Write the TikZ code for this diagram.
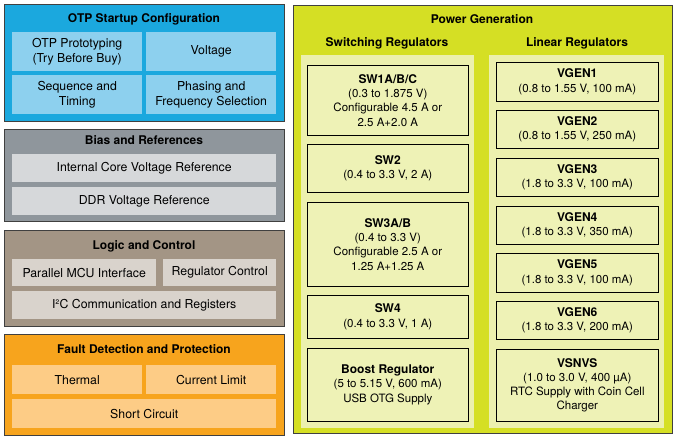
\documentclass[tikz,border=0pt]{standalone}
\usepackage{fontspec}
\setmainfont{TeX Gyre Heros}
\usepackage{tikz}
\definecolor{otpblue}{HTML}{1BA8DE}
\definecolor{otplight}{HTML}{8DD0EE}
\definecolor{biasgray}{HTML}{8F969C}
\definecolor{biaslight}{HTML}{D6D8DA}
\definecolor{logicbrown}{HTML}{A39585}
\definecolor{logiclight}{HTML}{D9D3CC}
\definecolor{faultorange}{HTML}{F7A41D}
\definecolor{faultlight}{HTML}{FDCC86}
\definecolor{powerlime}{HTML}{D5DF24}
\definecolor{panel}{HTML}{ECF0AE}
\definecolor{regbox}{HTML}{EEF2B6}
\newcommand\hd[1]{{\bfseries\fontsize{12}{14.3}\selectfont #1}}
\tikzset{
  grp/.style={draw=black!75, line width=0.7pt, anchor=north west, inner sep=0pt},
  cell/.style={anchor=north west, inner sep=0pt, align=center, font=\fontsize{12.3}{15}\selectfont},
  reg/.style={cell, draw=black, line width=0.6pt, fill=regbox, font=\fontsize{11.5}{14.3}\selectfont},
  ttl/.style={font=\bfseries\fontsize{12}{14}\selectfont}
}

\begin{document}
\begin{tikzpicture}[x=1pt,y=-1pt]
\useasboundingbox (0,0) rectangle (678,437);
% OTP startup configuration
\node [grp, fill=otpblue, minimum width=280, minimum height=117] (otp) at (4,4) {};
\node [ttl] (otpt) at (144,19) {OTP Startup Configuration};
\node [cell, fill=otplight, minimum width=130, minimum height=39] (proto) at (12,32) {OTP Prototyping\\(Try Before Buy)};
\node [cell, fill=otplight, minimum width=130, minimum height=39] (volt) at (146,32) {Voltage};
\node [cell, fill=otplight, minimum width=130, minimum height=39] (seq) at (12,75) {Sequence and\\Timing};
\node [cell, fill=otplight, minimum width=130, minimum height=39] (phase) at (146,75) {Phasing and\\Frequency Selection};
% bias and references
\node [grp, fill=biasgray, minimum width=280, minimum height=92] (bias) at (4,129) {};
\node [ttl] (biast) at (144,140) {Bias and References};
\node [cell, fill=biaslight, minimum width=264, minimum height=28] (core) at (12,154) {Internal Core Voltage Reference};
\node [cell, fill=biaslight, minimum width=264, minimum height=28] (ddr) at (12,187) {DDR Voltage Reference};
% logic and control
\node [grp, fill=logicbrown, minimum width=280, minimum height=96] (logic) at (4,230) {};
\node [ttl] (logict) at (144,246) {Logic and Control};
\node [cell, fill=logiclight, minimum width=144, minimum height=27] (mcu) at (12,259) {Parallel MCU Interface};
\node [cell, fill=logiclight, minimum width=113, minimum height=27] (ctrl) at (163,259) {Regulator Control};
\node [cell, fill=logiclight, minimum width=264, minimum height=28] (i2c) at (12,291) {I²C Communication and Registers};
% fault detection
\node [grp, fill=faultorange, minimum width=280, minimum height=101] (fault) at (4,334) {};
\node [ttl] (faultt) at (144,349) {Fault Detection and Protection};
\node [cell, fill=faultlight, minimum width=130, minimum height=29] (therm) at (12,365) {Thermal};
\node [cell, fill=faultlight, minimum width=130, minimum height=29] (ilim) at (146,365) {Current Limit};
\node [cell, fill=faultlight, minimum width=264, minimum height=29] (short) at (12,399) {Short Circuit};
% power generation
\node [grp, fill=powerlime, minimum width=379, minimum height=428] (power) at (293,5) {};
\node [ttl] (powert) at (482,19) {Power Generation};
\node [ttl] (swt) at (387,43) {Switching Regulators};
\node [ttl] (ldot) at (577,43) {Linear Regulators};
\node [cell, fill=panel, minimum width=173, minimum height=373] (swp) at (301,55) {};
\node [cell, fill=panel, minimum width=175, minimum height=373] (ldop) at (489,55) {};
% switching regulators
\node [reg, minimum width=161, minimum height=70] (sw1) at (307,65) {\hd{SW1A/B/C}\\(0.3 to 1.875 V)\\Configurable 4.5 A or\\2.5 A+2.0 A};
\node [reg, minimum width=161, minimum height=48] (sw2) at (307,144) {\hd{SW2}\\(0.4 to 3.3 V, 2 A)};
\node [reg, minimum width=161, minimum height=84] (sw3) at (307,202) {\hd{SW3A/B}\\(0.4 to 3.3 V)\\Configurable 2.5 A or\\1.25 A+1.25 A};
\node [reg, minimum width=161, minimum height=43] (sw4) at (307,295) {\hd{SW4}\\(0.4 to 3.3 V, 1 A)};
\node [reg, minimum width=161, minimum height=73] (boost) at (307,348) {\hd{Boost Regulator}\\(5 to 5.15 V, 600 mA)\\USB OTG Supply};
% linear regulators
\node [reg, minimum width=162, minimum height=39] (vg1) at (496,62) {\hd{VGEN1}\\(0.8 to 1.55 V, 100 mA)};
\node [reg, minimum width=162, minimum height=38] (vg2) at (496,110) {\hd{VGEN2}\\(0.8 to 1.55 V, 250 mA)};
\node [reg, minimum width=162, minimum height=38] (vg3) at (496,158) {\hd{VGEN3}\\(1.8 to 3.3 V, 100 mA)};
\node [reg, minimum width=162, minimum height=38] (vg4) at (496,206) {\hd{VGEN4}\\(1.8 to 3.3 V, 350 mA)};
\node [reg, minimum width=162, minimum height=39] (vg5) at (496,253) {\hd{VGEN5}\\(1.8 to 3.3 V, 100 mA)};
\node [reg, minimum width=162, minimum height=38] (vg6) at (496,301) {\hd{VGEN6}\\(1.8 to 3.3 V, 200 mA)};
\node [reg, minimum width=162, minimum height=72] (vsnvs) at (496,349) {\hd{VSNVS}\\(1.0 to 3.0 V, 400 µA)\\RTC Supply with Coin Cell\\Charger};
\end{tikzpicture}
\end{document}
